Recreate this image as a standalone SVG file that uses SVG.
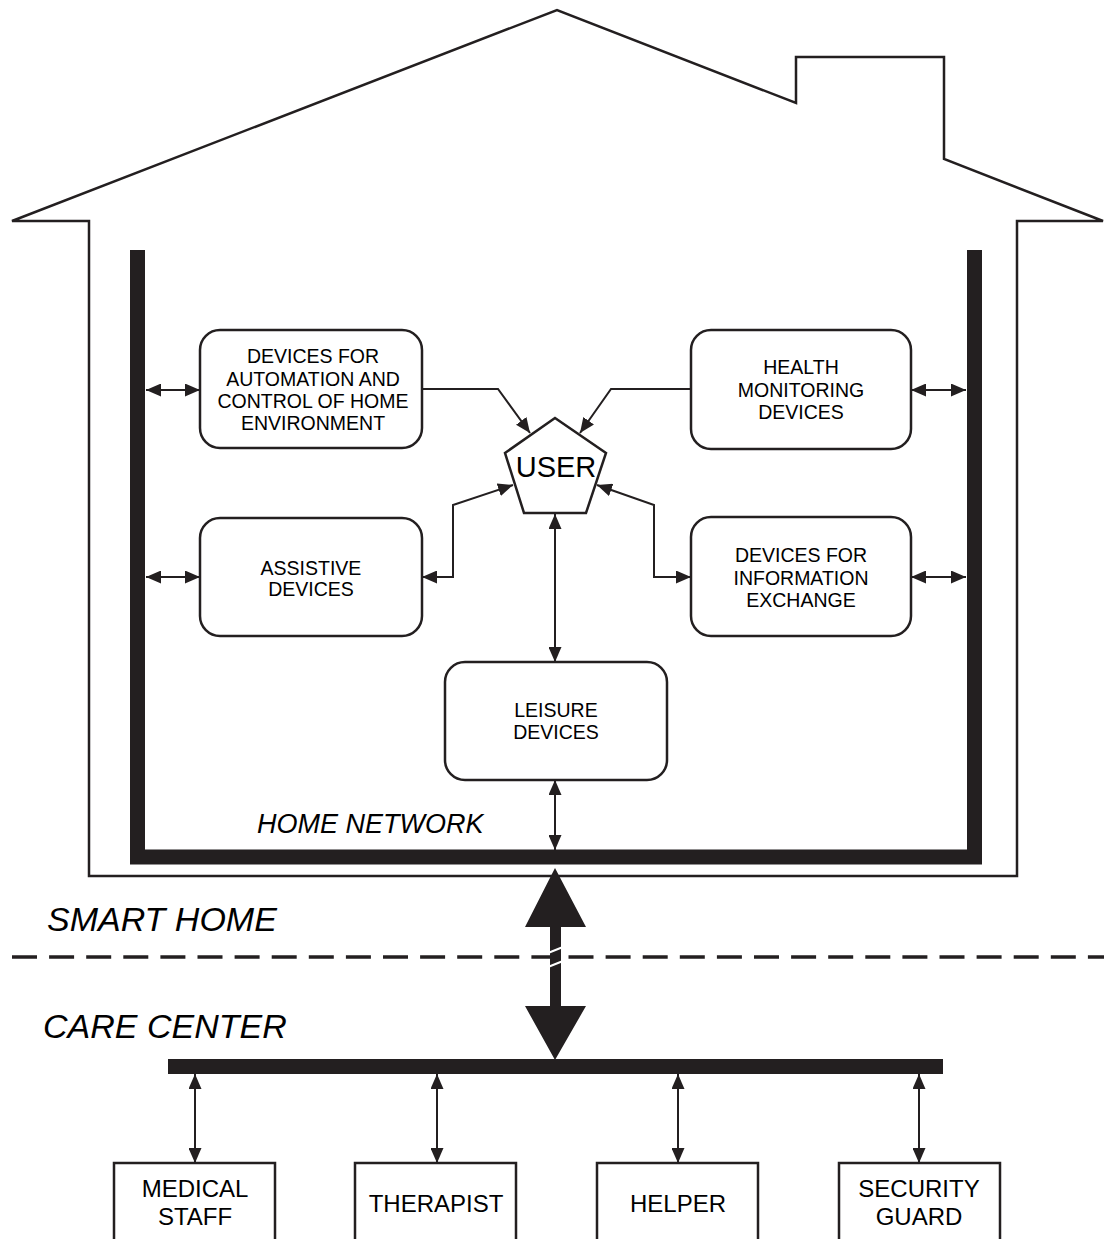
<svg xmlns="http://www.w3.org/2000/svg" width="1104" height="1239" viewBox="0 0 1104 1239">
  <defs>
    <marker id="ah" markerUnits="userSpaceOnUse" markerWidth="15" markerHeight="13" refX="15" refY="6.5" orient="auto-start-reverse">
      <path d="M0,0 L15,6.5 L0,13 z" fill="#231f20"/>
    </marker>
    <style>
      .outline { fill: none; stroke: #231f20; stroke-width: 2.5; stroke-linejoin: miter; }
      .box { fill: #fff; stroke: #231f20; stroke-width: 2.5; }
      .link { fill: none; stroke: #231f20; stroke-width: 2; marker-start: url(#ah); marker-end: url(#ah); }
      .oneway { fill: none; stroke: #231f20; stroke-width: 2; marker-end: url(#ah); }
      .lbl { font-family: "Liberation Sans", Arial, sans-serif; font-size: 19.5px; fill: #000; text-anchor: middle; }
      .big { font-family: "Liberation Sans", Arial, sans-serif; font-size: 24px; fill: #000; text-anchor: middle; }
      .zone { font-family: "Liberation Sans", Arial, sans-serif; font-style: italic; fill: #000; }
    </style>
  </defs>
  <rect width="1104" height="1239" fill="#fff"/>

  <!-- house silhouette with chimney -->
  <polygon class="outline" points="12,221 557,10 796,103 796,57 944,57 944,159 1103,221 1017,221 1017,876 89,876 89,221"/>

  <!-- home network bus -->
  <path d="M137.5,250 V857 H974.5 V250" fill="none" stroke="#231f20" stroke-width="15" stroke-linejoin="miter"/>
  <text class="zone" x="257" y="833" font-size="27">HOME NETWORK</text>

  <!-- boundary between the two zones -->
  <line x1="12" y1="957" x2="1104" y2="957" stroke="#231f20" stroke-width="3.5" stroke-dasharray="25 12.1"/>
  <text class="zone" x="47" y="931" font-size="34">SMART HOME</text>
  <text class="zone" x="43" y="1038" font-size="34">CARE CENTER</text>

  <!-- care center bus -->
  <rect x="168" y="1059" width="775" height="15" fill="#231f20"/>

  <!-- connectors -->
  <g id="connectors">
    <!-- to the home network bus -->
    <line class="link" x1="146" y1="390" x2="200" y2="390"/>
    <line class="link" x1="146" y1="577" x2="200" y2="577"/>
    <line class="link" x1="911" y1="390" x2="966" y2="390"/>
    <line class="link" x1="911" y1="577" x2="966" y2="577"/>
    <line class="link" x1="555" y1="780" x2="555" y2="850"/>
    <!-- to the user -->
    <polyline class="oneway" points="422,389 498,389 530,433"/>
    <polyline class="oneway" points="691,389 611,389 580,433"/>
    <polyline class="link" points="513,485 453,505 453,577 422,577"/>
    <polyline class="link" points="597,485 654,505 654,577 691,577"/>
    <line class="link" x1="555" y1="514" x2="555" y2="662"/>
    <!-- care center bus to staff -->
    <line class="link" x1="195" y1="1074" x2="195" y2="1163"/>
    <line class="link" x1="437" y1="1074" x2="437" y2="1163"/>
    <line class="link" x1="678" y1="1074" x2="678" y2="1163"/>
    <line class="link" x1="919" y1="1074" x2="919" y2="1163"/>
    <!-- wide link between home and care center -->
    <path d="M555,868 L586,927 L561,927 L561,1006 L586,1006 L555,1060 L525,1006 L550,1006 L550,927 L525,927 Z" fill="#231f20"/>
    <line x1="548" y1="953" x2="563" y2="947" stroke="#fff" stroke-width="2"/>
    <line x1="548" y1="967" x2="563" y2="961" stroke="#fff" stroke-width="2"/>
  </g>

  <!-- user -->
  <g id="user">
    <polygon points="555,418 606,453 586,513 524,513 505,453" fill="#fff" stroke="#231f20" stroke-width="2.5"/>
    <text x="556" y="477" font-family="Liberation Sans, Arial, sans-serif" font-size="29" text-anchor="middle">USER</text>
  </g>

  <g id="automation">
    <rect class="box" x="200" y="330" width="222" height="118" rx="20"/>
    <text class="lbl" x="313" y="363">DEVICES FOR</text>
    <text class="lbl" x="313" y="386">AUTOMATION AND</text>
    <text class="lbl" x="313" y="408">CONTROL OF HOME</text>
    <text class="lbl" x="313" y="430">ENVIRONMENT</text>
  </g>

  <g id="health">
    <rect class="box" x="691" y="330" width="220" height="119" rx="20"/>
    <text class="lbl" x="801" y="374">HEALTH</text>
    <text class="lbl" x="801" y="397">MONITORING</text>
    <text class="lbl" x="801" y="419">DEVICES</text>
  </g>

  <g id="assistive">
    <rect class="box" x="200" y="518" width="222" height="118" rx="20"/>
    <text class="lbl" x="311" y="575">ASSISTIVE</text>
    <text class="lbl" x="311" y="596">DEVICES</text>
  </g>

  <g id="information">
    <rect class="box" x="691" y="517" width="220" height="119" rx="20"/>
    <text class="lbl" x="801" y="562">DEVICES FOR</text>
    <text class="lbl" x="801" y="585">INFORMATION</text>
    <text class="lbl" x="801" y="607">EXCHANGE</text>
  </g>

  <g id="leisure">
    <rect class="box" x="445" y="662" width="222" height="118" rx="20"/>
    <text class="lbl" x="556" y="717">LEISURE</text>
    <text class="lbl" x="556" y="739">DEVICES</text>
  </g>

  <g id="medical">
    <rect class="box" x="114" y="1163" width="161" height="90"/>
    <text class="big" x="195" y="1197">MEDICAL</text>
    <text class="big" x="195" y="1225">STAFF</text>
  </g>
  <g id="therapist">
    <rect class="box" x="355" y="1163" width="161" height="90"/>
    <text class="big" x="436" y="1212">THERAPIST</text>
  </g>
  <g id="helper">
    <rect class="box" x="597" y="1163" width="161" height="90"/>
    <text class="big" x="678" y="1212">HELPER</text>
  </g>
  <g id="security">
    <rect class="box" x="839" y="1163" width="161" height="90"/>
    <text class="big" x="919" y="1197">SECURITY</text>
    <text class="big" x="919" y="1225">GUARD</text>
  </g>
</svg>
